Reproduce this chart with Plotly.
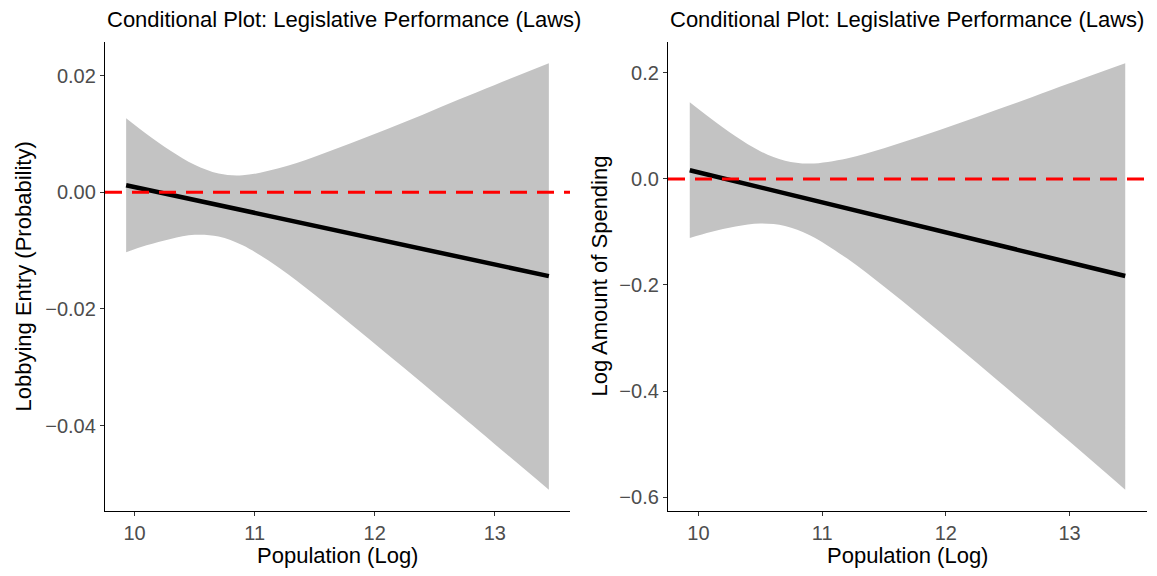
import plotly.graph_objects as go
from plotly.subplots import make_subplots

# Population (log) grid where the fitted effect and its confidence band are reported
pop_log = [9.93, 10.1, 10.3, 10.5, 10.7, 10.9, 11.2, 11.5, 11.8, 12.1, 12.4, 12.7, 13.0, 13.45]

# Panel 1: lobbying entry (probability)
entry_fit = [0.0012, 0.00045, -0.00044, -0.00133, -0.00221, -0.0031, -0.00443, -0.00576,
             -0.00708, -0.00841, -0.00974, -0.01107, -0.0124, -0.01439]
entry_upper = [0.0127, 0.0100, 0.0071, 0.0047, 0.0032, 0.0029, 0.0041, 0.0061,
               0.0084, 0.0108, 0.0133, 0.0159, 0.0184, 0.0221]
entry_lower = [-0.0103, -0.0091, -0.0080, -0.0073, -0.0076, -0.0091, -0.0129, -0.0176,
               -0.0226, -0.0277, -0.0328, -0.0380, -0.0432, -0.0510]

# Panel 2: log amount of spending
spend_fit = [0.0164, 0.0068, -0.0046, -0.0159, -0.0272, -0.0386, -0.0556, -0.0725,
             -0.0895, -0.1065, -0.1235, -0.1405, -0.1575, -0.1830]
spend_upper = [0.1444, 0.1138, 0.0804, 0.0523, 0.0342, 0.0289, 0.0386, 0.0578,
               0.0803, 0.1044, 0.1293, 0.1546, 0.1802, 0.2180]
spend_lower = [-0.1116, -0.1002, -0.0896, -0.0841, -0.0886, -0.1061, -0.1498, -0.2028,
               -0.2593, -0.3174, -0.3763, -0.4356, -0.4952, -0.5860]

x_ticks = [10, 11, 12, 13]
entry_ticks = [-0.04, -0.02, 0.0, 0.02]
entry_ticktext = ["\u22120.04", "\u22120.02", "0.00", "0.02"]
spend_ticks = [-0.6, -0.4, -0.2, 0.0, 0.2]
spend_ticktext = ["\u22120.6", "\u22120.4", "\u22120.2", "0.0", "0.2"]

title_text = "Conditional Plot: Legislative Performance (Laws)"
x_title = "Population (Log)"
y_titles = ["Lobbying Entry (Probability)", "Log Amount of Spending"]

FONT = "Liberation Sans, Arial, sans-serif"
BAND = "rgb(195,195,195)"

W, H = 1157, 576
ML, MR, MT, MB = 105, 10, 42, 65
PW = W - ML - MR
PH = H - MT - MB

def px_x(p):
    return (p - ML) / PW

fig = make_subplots(rows=1, cols=2)
fig.update_layout(
    xaxis=dict(domain=[0, px_x(570)]),
    xaxis2=dict(domain=[px_x(668), 1.0]),
)

panels = [
    (entry_fit, entry_upper, entry_lower, entry_ticks, entry_ticktext),
    (spend_fit, spend_upper, spend_lower, spend_ticks, spend_ticktext),
]

for i, (fit, up, lo, yt, ytt) in enumerate(panels, start=1):
    fig.add_trace(go.Scatter(x=pop_log, y=lo, mode="lines", line=dict(width=0, color=BAND, shape="spline"),
                             hoverinfo="skip", showlegend=False), row=1, col=i)
    fig.add_trace(go.Scatter(x=pop_log, y=up, mode="lines", line=dict(width=0, color=BAND, shape="spline"),
                             fill="tonexty", fillcolor=BAND, hoverinfo="skip", showlegend=False), row=1, col=i)
    fig.add_trace(go.Scatter(x=[pop_log[0], pop_log[-1]], y=[fit[0], fit[-1]], mode="lines",
                             line=dict(color="black", width=4.5), showlegend=False), row=1, col=i)
    # reference line at zero
    fig.add_hline(y=0, line=dict(color="red", width=3, dash="17px,10px"), row=1, col=i)

    lo_all, hi_all = min(lo), max(up)
    pad = 0.05 * (hi_all - lo_all)
    xpad = 0.05 * (pop_log[-1] - pop_log[0])
    axis_common = dict(showgrid=False, zeroline=False, showline=True, linecolor="black", linewidth=1.3,
                       ticks="outside", ticklen=4, tickwidth=1.2, tickcolor="#333333",
                       tickfont=dict(family=FONT, size=20, color="#4D4D4D"))
    fig.update_xaxes(range=[pop_log[0] - xpad, pop_log[-1] + xpad], tickvals=x_ticks,
                     ticktext=[str(v) for v in x_ticks], row=1, col=i, **axis_common)
    fig.update_yaxes(range=[lo_all - pad, hi_all + pad], tickvals=yt, ticktext=ytt,
                     row=1, col=i, **axis_common)

# panel titles and axis titles
for left_px, right_px, ytitle_px, ytitle in [(105, 570, 23, y_titles[0]), (668, 1147, 599, y_titles[1])]:
    fig.add_annotation(text=title_text, xref="paper", yref="paper", x=px_x(left_px), y=1,
                       xanchor="left", yanchor="middle", yshift=23, showarrow=False,
                       font=dict(family=FONT, size=22, color="black"))
    fig.add_annotation(text=x_title, xref="paper", yref="paper", x=px_x((left_px + right_px) / 2), y=0,
                       xanchor="center", yanchor="middle", yshift=-44, showarrow=False,
                       font=dict(family=FONT, size=22, color="black"))
    fig.add_annotation(text=ytitle, xref="paper", yref="paper", x=px_x(ytitle_px), y=0.5,
                       xanchor="center", yanchor="middle", textangle=-90, showarrow=False,
                       font=dict(family=FONT, size=22, color="black"))

fig.update_layout(width=W, height=H, margin=dict(l=ML, r=MR, t=MT, b=MB),
                  plot_bgcolor="white", paper_bgcolor="white", showlegend=False)

fig.write_html("out.html")
